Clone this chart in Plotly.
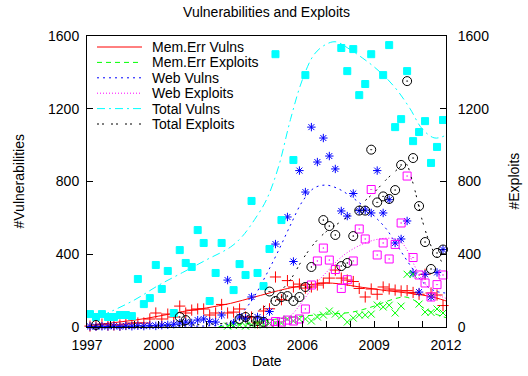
import plotly.graph_objects as go

# Quarterly sample dates (decimal years)
DATES = [
    1997.125, 1997.375, 1997.625, 1997.875, 1998.125, 1998.375, 1998.625, 1998.875,
    1999.125, 1999.375, 1999.625, 1999.875, 2000.125, 2000.375, 2000.625, 2000.875,
    2001.125, 2001.375, 2001.625, 2001.875, 2002.125, 2002.375, 2002.625, 2002.875,
    2003.125, 2003.375, 2003.625, 2003.875, 2004.125, 2004.375, 2004.625, 2004.875,
    2005.125, 2005.375, 2005.625, 2005.875, 2006.125, 2006.375, 2006.625, 2006.875,
    2007.125, 2007.375, 2007.625, 2007.875, 2008.125, 2008.375, 2008.625, 2008.875,
    2009.125, 2009.375, 2009.625, 2009.875, 2010.125, 2010.375, 2010.625, 2010.875,
    2011.125, 2011.375, 2011.625, 2011.875, 2012.125,
]

# Quarterly counts (None = no point within the plotted range)
MEM_VULNS = [
    5, 11, 16, 11, 11, 11, 16, 22, 22, 22,
    44, 77, 44, 71, 55, 115, 77, 93, 99, 99,
    66, 77, 124, 77, 82, 99, 55, 55, 22, 88,
    100, 275, 150, 255, 220, 236, 214, 220, 231, 242,
    269, 313, 269, 258, 250, 212, 165, 209, 180, 220,
    209, 203, 198, 200, 190, 180, 290, 187, 176, 118, 145,
]
MEM_EXPLOITS = [
    None, None, None, None, None, None, None, None, None, None,
    None, None, None, None, None, None, None, None, None, None,
    None, None, None, 5, 8, 11, 5, 11, 16, 11,
    20, 22, 22, 44, 33, 44, 44, 33, 55, 66,
    88, 71, 60, 27, 49, 66, 66, 71, 121, 110,
    120, 77, 115, 290, 290, 126, 82, 80, 99, 77, 55,
]
WEB_VULNS = [
    3, 2, 4, 3, 5, 2, 6, 4, 7, 5,
    9, 6, 10, 12, 15, 22, 27, 22, 38, 44,
    30, 27, 66, 258, 22, 55, 48, 165, 55, 40,
    85, 456, None, 605, 360, 860, 742, 1099, 907, 1039,
    940, 869, 638, 610, 734, 640, 643, 627, 860, 627,
    700, 462, 484, 583, 297, 192, 290, 165, 300, 426, 290,
]
WEB_EXPLOITS = [
    None, None, None, None, None, None, None, None, None, None,
    None, None, None, None, None, None, None, None, None, None,
    None, None, None, None, None, None, None, None, None, None,
    20, 30, 27, 38, 33, 44, 99, 231, 363, 434,
    368, 316, 212, 260, 363, 539, 484, 756, 396, 462,
    374, 454, 572, 830, 382, 286, 242, 165, 233, 286, 165,
]
TOTAL_VULNS = [
    71, 55, 71, 55, 55, 66, 66, 60, 264, 126,
    159, 341, 209, 308, 77, 423, 352, 330, 533, 462,
    143, 297, 462, None, 203, 346, 286, 693, 297, 225,
    429, 1500, 588, None, 918, None, 1385, None, None, None,
    None, None, 1534, 1407, 1528, 1275, 1336, 1500, None, 1385,
    1550, 1099, 1143, 1407, 1022, 1072, 1132, 902, 990, 1138, 1061,
]
TOTAL_EXPLOITS = [
    None, 11, None, None, None, None, None, None, None, None,
    None, None, None, None, None, 55, 38, None, None, None,
    None, None, None, None, None, 44, 55, 33, 33, 28,
    195, 143, 165, 170, 143, 165, 220, 330, None, 588,
    555, 506, 335, 352, 500, 640, 640, 975, 685, 718,
    704, 753, 891, 1352, 929, 665, 467, 319, 407, 426, 312,
]

# Smoothed trend curves
MEM_VULNS_FIT_X = [1997.3, 1998.0, 1998.5, 1999.0, 1999.5, 2000.0, 2000.5, 2001.0, 2002.0, 2003.0,
                   2004.0, 2005.0, 2005.5, 2006.0, 2006.5, 2007.0, 2007.5, 2008.0, 2008.5, 2009.0,
                   2009.5, 2010.0, 2010.5, 2011.0, 2011.5, 2012.15]
MEM_VULNS_FIT_Y = [11, 22, 30, 38, 48, 60, 72, 85, 105, 130,
                   165, 200, 215, 228, 236, 242, 238, 228, 218, 209,
                   200, 193, 185, 176, 163, 137]
MEM_EXPL_FIT_X = [2002.5, 2003.5, 2004.5, 2005.0, 2006.0, 2007.0, 2008.0, 2008.5, 2009.0, 2009.5,
                  2010.0, 2010.3, 2010.7, 2011.0, 2011.5, 2012.15]
MEM_EXPL_FIT_Y = [2, 15, 35, 45, 60, 70, 80, 95, 115, 140,
                  160, 165, 145, 110, 75, 45]
WEB_VULNS_FIT_X = [1997.3, 1998.0, 1999.0, 2000.0, 2001.0, 2002.0, 2003.0, 2003.5, 2004.0, 2004.5,
                   2005.0, 2005.5, 2006.0, 2006.5, 2007.0, 2007.5, 2008.0, 2008.5, 2009.0, 2009.5,
                   2010.0, 2010.5, 2011.0, 2011.5, 2012.15]
WEB_VULNS_FIT_Y = [2, 2, 3, 4, 5, 6, 20, 80, 170, 290,
                   420, 560, 690, 765, 780, 760, 720, 670, 610, 540,
                   440, 340, 250, 200, 185]
WEB_EXPL_FIT_X = [2004.5, 2005.0, 2005.5, 2006.0, 2006.5, 2007.0, 2007.5, 2008.0, 2008.5, 2009.0,
                  2009.5, 2010.0, 2010.3, 2010.6, 2011.0, 2011.5, 2012.15]
WEB_EXPL_FIT_Y = [5, 20, 60, 140, 230, 300, 370, 420, 455, 478,
                  488, 480, 440, 360, 260, 190, 150]
TOTAL_VULNS_FIT_X = [1997.6, 1998.0, 1999.0, 2000.0, 2001.0, 2002.0, 2003.0, 2003.5, 2004.0, 2004.5,
                     2005.0, 2005.5, 2006.0, 2006.5, 2007.0, 2007.4, 2008.0, 2008.5, 2009.0, 2009.5,
                     2010.0, 2010.5, 2011.0, 2011.5, 2011.8, 2012.15]
TOTAL_VULNS_FIT_Y = [62, 85, 150, 230, 300, 370, 440, 500, 590, 700,
                     880, 1140, 1360, 1500, 1555, 1568, 1525, 1480, 1430, 1370,
                     1295, 1200, 1090, 1040, 1044, 1065]
TOTAL_EXPL_FIT_X = [1997.3, 2000.0, 2002.0, 2003.0, 2003.5, 2004.0, 2004.5, 2005.0, 2005.5, 2006.0,
                    2006.5, 2007.0, 2007.5, 2008.0, 2008.5, 2009.0, 2009.5, 2010.0, 2010.3, 2010.6,
                    2011.0, 2011.3, 2011.6, 2012.15]
TOTAL_EXPL_FIT_Y = [0, 5, 15, 25, 50, 80, 120, 185, 260, 370,
                    460, 525, 570, 615, 680, 740, 810, 870, 900, 800,
                    590, 470, 390, 330]

X_TICKS = [1997, 2000, 2003, 2006, 2009, 2012]
Y_TICKS = [0, 400, 800, 1200, 1600]

FONT = "Liberation Sans, Arial, Helvetica, sans-serif"

# Figure geometry (pixels)
W, H = 528, 376
ML, MR, MT, MB = 87, 82, 36, 49
PW, PH = W - ML - MR, H - MT - MB

series = [
    # name, points, fit x, fit y, color, symbol, marker size, dash, axis
    ("Mem.Err Vulns", MEM_VULNS, MEM_VULNS_FIT_X, MEM_VULNS_FIT_Y, "#ff0000", "cross-thin-open", 8, "solid", "y"),
    ("Mem.Err Exploits", MEM_EXPLOITS, MEM_EXPL_FIT_X, MEM_EXPL_FIT_Y, "#00ff00", "x-thin-open", 7, "5px,4px", "y2"),
    ("Web Vulns", WEB_VULNS, WEB_VULNS_FIT_X, WEB_VULNS_FIT_Y, "#0000ff", "asterisk-open", 7, "2px,4px", "y"),
    ("Web Exploits", WEB_EXPLOITS, WEB_EXPL_FIT_X, WEB_EXPL_FIT_Y, "#ff00ff", "square-open-dot", 8, "1px,2px", "y2"),
    ("Total Vulns", TOTAL_VULNS, TOTAL_VULNS_FIT_X, TOTAL_VULNS_FIT_Y, "#00ffff", "square", 7, "8px,4px,2px,4px", "y"),
    ("Total Exploits", TOTAL_EXPLOITS, TOTAL_EXPL_FIT_X, TOTAL_EXPL_FIT_Y, "#000000", "circle-open-dot", 9, "2px,3px,2px,7px", "y2"),
]

fig = go.Figure()
for name, pts, fx, fy, color, symbol, msize, dash, axis in series:
    fig.add_trace(go.Scatter(
        x=DATES, y=pts, mode="markers", yaxis=axis, showlegend=False,
        cliponaxis=False,
        marker=dict(symbol=symbol, size=msize, color=color,
                    line=dict(color=color, width=1)),
    ))
    fig.add_trace(go.Scatter(
        x=fx, y=fy, mode="lines", name=name, yaxis=axis, showlegend=False,
        line=dict(color=color, width=1, dash=dash, shape="spline", smoothing=1.0),
    ))

# Key in the top-left corner of the plot: line sample + label per series
KEY_SAMPLE_X0, KEY_SAMPLE_X1, KEY_TEXT_X = 97, 142, 150
KEY_ROW0, KEY_PITCH = 47, 15.4
shapes, annotations = [], []
for k, (name, _, _, _, color, _, _, dash, _) in enumerate(series):
    py = KEY_ROW0 + k * KEY_PITCH
    yp = 1 - (py - MT) / PH
    shapes.append(dict(type="line", xref="paper", yref="paper",
                       x0=(KEY_SAMPLE_X0 - ML) / PW, x1=(KEY_SAMPLE_X1 - ML) / PW,
                       y0=yp, y1=yp, line=dict(color=color, width=1, dash=dash)))
    annotations.append(dict(text=name, xref="paper", yref="paper",
                            x=(KEY_TEXT_X - ML) / PW, y=yp, xanchor="left", yanchor="middle",
                            showarrow=False, font=dict(family=FONT, size=14, color="black")))

# Axis titles, placed at fixed pixel offsets from the plot frame
title_font = dict(family=FONT, size=14, color="black")
annotations += [
    dict(text="Date", xref="paper", yref="paper", x=0.5, y=-(361 - MT - PH) / PH,
         xanchor="center", yanchor="middle", showarrow=False, font=title_font),
    dict(text="#Vulnerabilities", xref="paper", yref="paper", x=(18 - ML) / PW, y=0.5,
         textangle=-90, xanchor="center", yanchor="middle", showarrow=False, font=title_font),
    dict(text="#Exploits", xref="paper", yref="paper", x=(513 - ML) / PW, y=0.5,
         textangle=-90, xanchor="center", yanchor="middle", showarrow=False, font=title_font),
]

axis_common = dict(
    showgrid=False, zeroline=False, showline=True, linecolor="black", linewidth=1,
    ticks="inside", ticklen=6, tickcolor="black", tickwidth=1, automargin=False,
    tickfont=dict(family=FONT, size=14, color="black"),
)

fig.update_layout(
    width=W, height=H,
    margin=dict(l=ML, r=MR, t=MT, b=MB, autoexpand=False),
    paper_bgcolor="white", plot_bgcolor="white",
    font=dict(family=FONT, size=14, color="black"),
    title=dict(text="Vulnerabilities and Exploits", x=0.5, xref="paper",
               y=1 - 12 / H, yanchor="middle",
               font=dict(family=FONT, size=14, color="black")),
    xaxis=dict(range=[1997, 2012], tickvals=X_TICKS, mirror=True, ticklabelstandoff=5,
               minor=dict(dtick=1, tick0=1997, ticks="inside", ticklen=6, tickcolor="black"),
               **axis_common),
    yaxis=dict(range=[0, 1600], tickvals=Y_TICKS, mirror=True, ticklabelstandoff=4,
               **axis_common),
    yaxis2=dict(range=[0, 1600], tickvals=Y_TICKS, overlaying="y", side="right",
                ticklabelstandoff=8, **axis_common),
    shapes=shapes,
    annotations=annotations,
    showlegend=False,
)

fig.write_html("out.html")
